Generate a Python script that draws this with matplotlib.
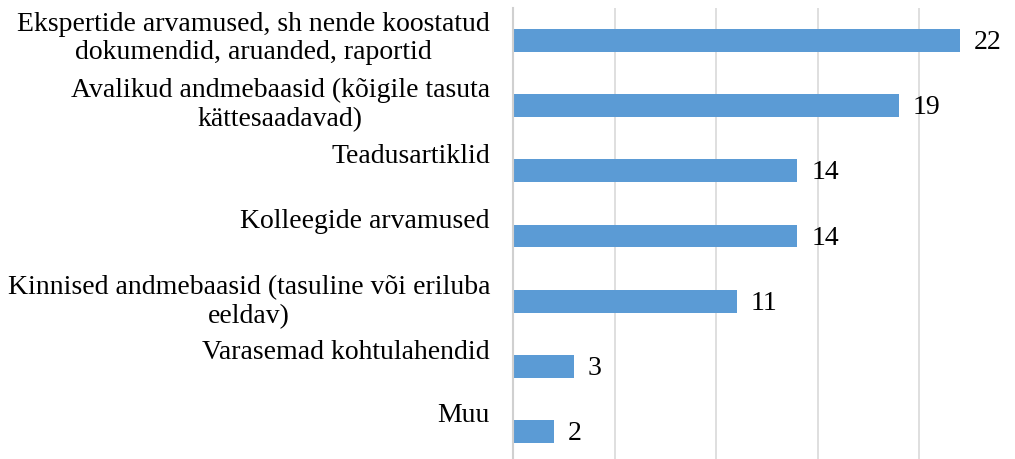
import numpy as np
import matplotlib.pyplot as plt

plt.rcParams['font.family'] = ['Liberation Serif', 'DejaVu Serif']

categories = [
    "Ekspertide arvamused, sh nende koostatud\ndokumendid, aruanded, raportid",
    "Avalikud andmebaasid (kõigile tasuta\nkättesaadavad)",
    "Teadusartiklid",
    "Kolleegide arvamused",
    "Kinnised andmebaasid (tasuline või eriluba\neeldav)",
    "Varasemad kohtulahendid",
    "Muu",
]
values = [22, 19, 14, 14, 11, 3, 2]

# how far each category label sits above its bar (pixels)
label_shift = [2, 1, 14, 15, -1, 14, 16]

W, H = 1015, 459
fig = plt.figure(figsize=(W / 100, H / 100), dpi=100)
ax = fig.add_axes([513 / W, (H - 464) / H, (1021 - 513) / W, 456 / H])

y = np.arange(len(categories))
ax.barh(y, values, height=0.35, color="#5B9BD5", zorder=2)

ax.set_xlim(0, 25)
ax.set_ylim(len(categories) - 0.5, -0.5)
ax.set_xticks(np.arange(0, 26, 5))
ax.set_xticklabels([])
ax.set_yticks(y)
ax.set_yticklabels([])
ax.tick_params(length=0)
ax.grid(axis="x", color="#D9D9D9", linewidth=1.2, zorder=0)
for s in ["top", "right", "bottom"]:
    ax.spines[s].set_visible(False)
ax.spines["left"].set_color("#D0D0D0")
ax.spines["left"].set_linewidth(1.5)

px = 72 / 100
for i, (lab, v) in enumerate(zip(categories, values)):
    ax.annotate(lab, xy=(0, i), xycoords=("axes fraction", "data"),
                xytext=(-23 * px, label_shift[i] * px), textcoords="offset points",
                ha="right", va="center", multialignment="center",
                fontsize=20, linespacing=1.2, annotation_clip=False)
    ax.annotate(str(v), xy=(v, i), xytext=(14 * px, -2 * px),
                textcoords="offset points", ha="left", va="center",
                fontsize=20, annotation_clip=False)

fig.savefig("out.png", dpi=100)
